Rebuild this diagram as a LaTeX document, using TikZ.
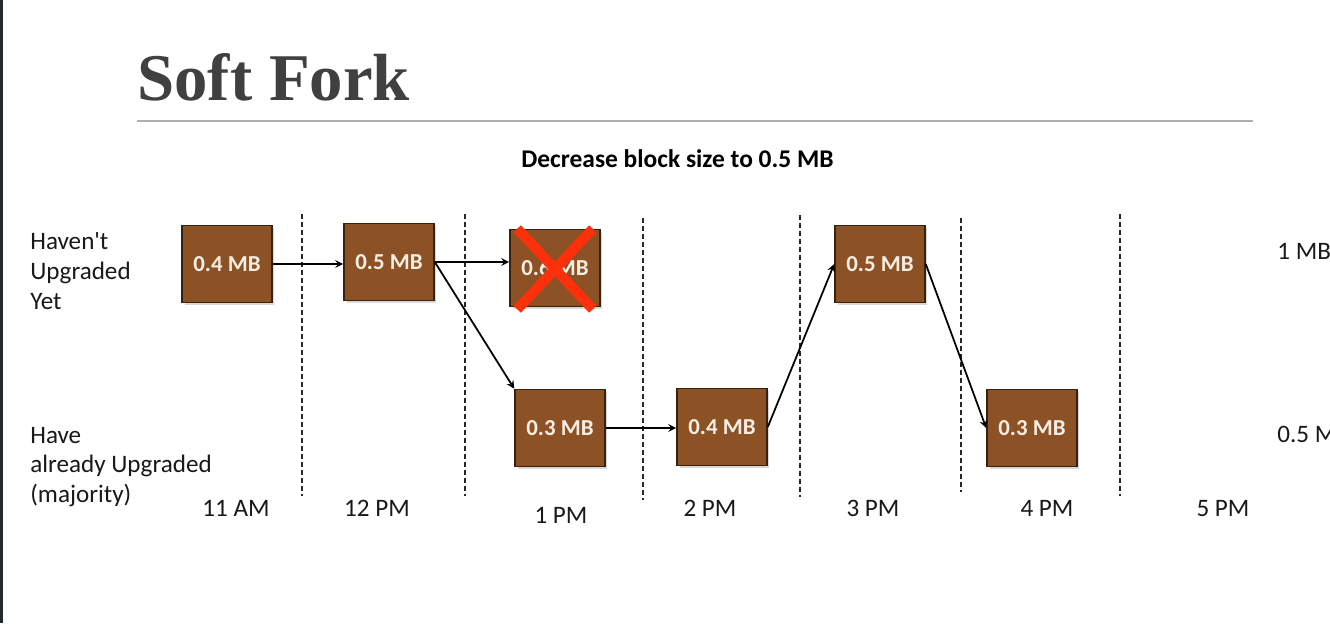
\documentclass[tikz,border=0pt]{standalone}
\usepackage{fontspec}
\setmainfont{Carlito}[Ligatures=TeXOff]
\newfontfamily\titlefont{Liberation Serif}
\usetikzlibrary{shadows}

\definecolor{blockbrown}{RGB}{140,82,38}
\definecolor{blockedge}{RGB}{55,34,16}
\definecolor{blocktext}{RGB}{246,238,226}
\definecolor{crossred}{RGB}{252,48,10}
\definecolor{titlegray}{RGB}{64,64,64}
\definecolor{rulegray}{RGB}{175,175,175}
\definecolor{framedark}{RGB}{35,39,46}

\begin{document}
\begin{tikzpicture}[
    x=0.02cm, y=-0.02cm,
    block/.style={draw=blockedge, line width=0.9pt, fill=blockbrown, minimum width=1.8cm, minimum height=1.54cm,
        text=blocktext, font=\bfseries\fontsize{13}{15}\selectfont,
        drop shadow={shadow xshift=0.05cm, shadow yshift=-0.05cm, opacity=0.3}},
    arr/.style={-stealth, line width=1pt},
    lbl/.style={font=\fontsize{14.3}{17}\selectfont, text=black!90, inner sep=0pt},
    divider/.style={line width=1.4pt, dash pattern=on 0.1cm off 0.06cm, black!85},
    cross/.style={crossred, line width=0.2cm}
]
    % page and frame
    \fill[white] (0,0) rectangle (1330,623);
    \fill[framedark] (0,0) rectangle (3,623);
    \useasboundingbox (0,0) rectangle (1330,623);

    % heading
    \node[anchor=base west, inner sep=0pt, text=titlegray, font=\titlefont\bfseries\fontsize{38}{40}\selectfont] (title) at (137,100) {Soft Fork};
    \draw[rulegray, line width=1.1pt] (137,121) -- (1253,121);
    \node[anchor=base west, inner sep=0pt, font=\bfseries\fontsize{14.5}{17}\selectfont] (sub) at (521,167) {Decrease block size to 0.5 MB};

    % row labels
    \node[lbl, anchor=west, align=left] (old) at (30,271) {Haven't\\Upgraded\\Yet};
    \node[lbl, anchor=west, align=left] (new) at (30,467) {Have\\already Upgraded\\(majority)};
    \node[lbl, anchor=base west] (lim1) at (1277,259) {1 MB};
    \node[lbl, anchor=base west] (lim2) at (1277,442) {0.5 MB};

    % time slots
    \foreach \tx/\ty/\tname/\ttext in {236/516/t11/11 AM, 377/516/t12/12 PM, 561/523/t1/1 PM, 710/516/t2/2 PM,
        873/516/t3/3 PM, 1047/516/t4/4 PM, 1223/516/t5/5 PM}
        \node[lbl, anchor=base] (\tname) at (\tx,\ty) {\ttext};

    \foreach \dx/\ytop/\ybot in {302/214/496, 465/214/496, 643/218/500, 800/215/497, 961/218/492, 1120/214/496}
        \draw[divider] (\dx,\ytop) -- (\dx,\ybot);

    % blocks
    \node[block] (b1) at (227,264) {0.4 MB};
    \node[block] (b2) at (389,262) {0.5 MB};
    \node[block] (b3) at (555,268) {0.6 MB};
    \node[block] (b4) at (560,428) {0.3 MB};
    \node[block] (b5) at (722,427) {0.4 MB};
    \node[block] (b6) at (880,264) {0.5 MB};
    \node[block] (b7) at (1032,428) {0.3 MB};

    % rejected block
    \draw[cross] ([xshift=0.16cm]b3.north west) -- ([xshift=-0.16cm, yshift=-0.04cm]b3.south east);
    \draw[cross] ([xshift=-0.16cm]b3.north east) -- ([xshift=0.16cm, yshift=-0.04cm]b3.south west);

    \draw[arr] (b1.east) -- (b1.east -| b2.west);
    \draw[arr] (b2.east) -- (b2.east -| b3.west);
    \draw[arr] (b2.east) -- (b4.north west);
    \draw[arr] (b4.east) -- (b4.east -| b5.west);
    \draw[arr] (b5.east) -- (b6.west);
    \draw[arr] (b6.east) -- (b7.west);
\end{tikzpicture}
\end{document}
